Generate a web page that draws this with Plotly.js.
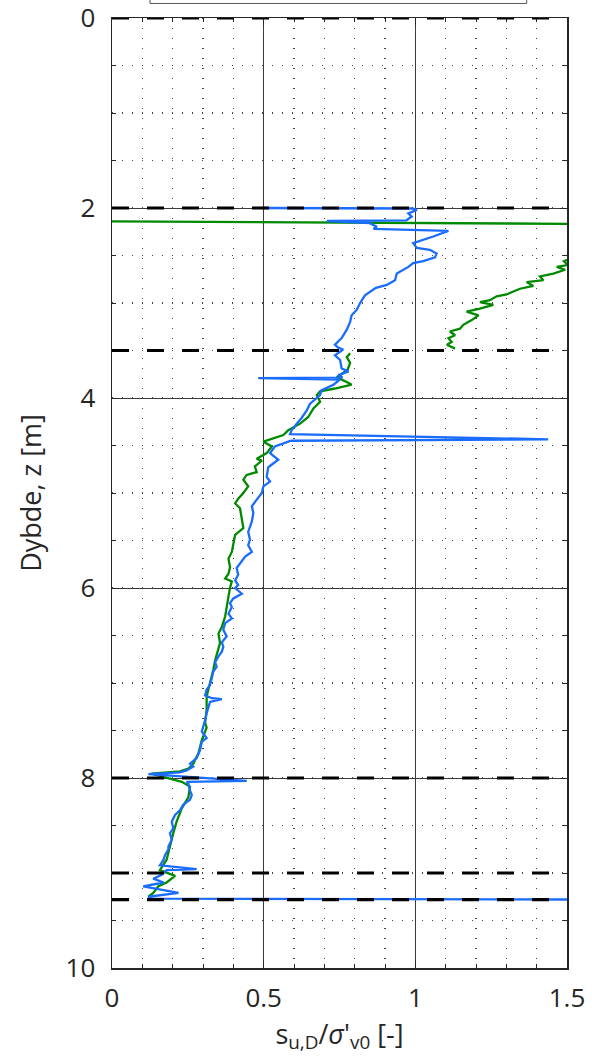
<!DOCTYPE html>
<html>
<head>
<meta charset="utf-8">
<script src="https://cdn.plot.ly/plotly-3.0.1.min.js"></script>
<style>html,body{margin:0;padding:0;background:#fff}#chart{width:592px;height:1058px}</style>
</head>
<body>
<div id="chart"></div>
<script>
// Blue profile: s_u,D / sigma'_v0 vs depth z
const blueX = [0.50,0.99,1.005,0.977,0.988,0.97,0.708,0.85,0.873,0.862,1.109,1.059,0.993,1.005,1.048,1.07,1.065,1.026,0.993,0.977,0.939,0.933,0.906,0.870,0.834,0.818,0.807,0.79,0.785,0.774,0.757,0.735,0.746,0.762,0.735,0.752,0.757,0.78,0.746,0.76,0.482,0.75,0.746,0.73,0.69,0.686,0.675,0.653,0.642,0.625,0.609,0.592,0.587,1.438,0.59,0.581,0.537,0.521,0.548,0.527,0.515,0.51,0.521,0.499,0.494,0.477,0.461,0.466,0.461,0.449,0.455,0.449,0.461,0.439,0.422,0.411,0.416,0.406,0.416,0.406,0.428,0.40,0.389,0.395,0.384,0.395,0.373,0.367,0.378,0.362,0.367,0.362,0.351,0.34,0.345,0.334,0.329,0.323,0.312,0.307,0.329,0.362,0.323,0.318,0.312,0.307,0.301,0.296,0.312,0.296,0.29,0.279,0.257,0.268,0.246,0.224,0.12,0.444,0.246,0.252,0.257,0.263,0.257,0.235,0.224,0.208,0.197,0.202,0.191,0.197,0.186,0.186,0.175,0.17,0.158,0.279,0.18,0.164,0.136,0.17,0.103,0.219,0.12,0.13,1.7];
const blueZ = [2.00,2.005,2.02,2.056,2.09,2.13,2.137,2.16,2.197,2.22,2.24,2.30,2.37,2.42,2.44,2.48,2.52,2.56,2.58,2.62,2.69,2.76,2.81,2.84,2.92,3.00,3.07,3.13,3.20,3.28,3.37,3.44,3.47,3.49,3.55,3.60,3.69,3.72,3.76,3.785,3.79,3.805,3.82,3.86,3.92,3.97,4.00,4.06,4.13,4.21,4.27,4.34,4.38,4.435,4.45,4.46,4.51,4.58,4.65,4.70,4.73,4.83,4.88,4.93,5.00,5.07,5.14,5.21,5.30,5.41,5.49,5.55,5.62,5.67,5.74,5.79,5.86,5.92,5.97,6.00,6.06,6.11,6.16,6.20,6.27,6.32,6.37,6.44,6.51,6.57,6.62,6.67,6.72,6.78,6.83,6.88,6.95,7.02,7.07,7.13,7.16,7.17,7.20,7.25,7.32,7.39,7.46,7.51,7.58,7.62,7.71,7.79,7.85,7.88,7.92,7.94,7.96,8.03,8.04,8.06,8.13,8.18,8.23,8.28,8.34,8.39,8.46,8.53,8.58,8.65,8.72,8.75,8.81,8.86,8.92,8.96,8.97,9.02,9.06,9.10,9.14,9.21,9.25,9.27,9.28];

// Green profile (null = gap in the line)
const greenX = [0.0,1.7,null,1.52,1.49,1.502,1.466,1.494,1.455,1.411,1.422,1.367,1.389,1.345,1.323,1.301,1.268,1.246,1.213,1.257,1.213,1.169,1.208,1.186,1.158,1.147,1.114,1.131,1.109,1.12,1.104,1.131,null,0.785,0.774,0.785,0.777,0.757,0.741,0.785,0.79,0.735,0.686,0.675,0.686,0.664,0.647,0.62,0.581,0.565,0.537,0.499,0.527,0.51,0.477,0.494,0.471,0.477,0.444,0.433,0.449,0.433,0.416,0.406,0.422,0.428,0.433,0.406,0.40,0.395,0.384,0.389,0.384,0.373,0.395,0.389,0.384,0.378,0.373,0.362,0.351,0.356,0.345,0.34,0.334,0.323,0.312,0.312,0.307,0.312,0.296,0.285,0.268,0.252,0.224,0.13,0.23,0.257,0.252,0.23,0.213,0.202,0.191,0.18,0.158,0.208,0.18,0.153,0.136,0.12];
const greenZ = [2.14,2.17,null,2.52,2.56,2.60,2.62,2.65,2.69,2.72,2.76,2.78,2.82,2.85,2.88,2.91,2.93,2.97,2.99,3.02,3.06,3.09,3.13,3.18,3.23,3.27,3.30,3.34,3.37,3.41,3.44,3.48,null,3.53,3.57,3.63,3.70,3.75,3.78,3.85,3.86,3.90,3.93,3.97,4.04,4.11,4.20,4.27,4.34,4.39,4.42,4.46,4.51,4.58,4.64,4.66,4.72,4.78,4.81,4.86,4.93,5.00,5.06,5.11,5.16,5.27,5.37,5.44,5.53,5.62,5.69,5.78,5.85,5.90,5.93,6.00,6.09,6.20,6.30,6.41,6.48,6.58,6.69,6.76,6.86,7.00,7.14,7.28,7.42,7.47,7.60,7.74,7.85,7.90,7.93,7.955,8.04,8.09,8.20,8.32,8.46,8.58,8.72,8.86,8.97,9.03,9.10,9.14,9.21,9.25];

// Layer boundaries (depth, m)
const layerDepths = [0, 2.0, 3.5, 8.0, 9.0, 9.28];

const xTickVals = [0, 0.5, 1, 1.5];
const xTickText = ['0', '0.5', '1', '1.5'];
const yTickVals = [0, 2, 4, 6, 8, 10];
const yTickText = ['0', '2', '4', '6', '8', '10'];

const FONT = 'Open Sans, sans-serif';
const TXT = '#262626';

const traces = [
  {x: greenX, y: greenZ, type: 'scatter', mode: 'lines', connectgaps: false,
   line: {color: '#008a00', width: 2.3}, showlegend: false, hoverinfo: 'skip'},
  {x: blueX, y: blueZ, type: 'scatter', mode: 'lines',
   line: {color: '#1a6cff', width: 2.3}, showlegend: false, hoverinfo: 'skip'}
];

const shapes = layerDepths.map(d => ({
  type: 'line', xref: 'paper', yref: 'y', x0: 0, x1: 1, y0: d, y1: d,
  line: {color: '#000', width: 3.2, dash: '17px,18px'}, layer: 'above'
}));
// partially visible legend frame above the axes
shapes.push({type: 'rect', xref: 'paper', yref: 'paper', x0: 0.0835, x1: 0.9114, y0: 1.0153, y1: 1.03,
  line: {color: '#555', width: 1}, fillcolor: '#fff', layer: 'above'});

const layout = {
  width: 592, height: 1058,
  margin: {l: 112, r: 25, t: 18, b: 90},
  paper_bgcolor: '#fff', plot_bgcolor: '#fff',
  font: {family: FONT, color: TXT, size: 26},
  showlegend: false,
  xaxis: {
    range: [0, 1.5], tickvals: xTickVals, ticktext: xTickText,
    ticks: 'inside', ticklen: 7, tickcolor: '#262626', tickwidth: 1,
    showline: true, linecolor: '#262626', linewidth: 1.5, mirror: 'ticks',
    showgrid: true, gridcolor: '#3a3a3a', gridwidth: 1,
    zeroline: false, ticklabelstandoff: 6, ticklabeloverflow: 'allow',
    tickfont: {family: FONT, size: 26, color: TXT},
    minor: {dtick: 0.1, tick0: 0, ticks: 'inside', ticklen: 4, tickcolor: '#262626',
            showgrid: true, gridcolor: '#444', gridwidth: 1.4, griddash: '1.4px,8.6px'},
    title: {text: 's<sub>u,D</sub>/<i>σ</i>\'<sub>v0</sub> [-]', font: {family: FONT, size: 27, color: TXT}, standoff: 4},
    automargin: false
  },
  yaxis: {
    range: [10, 0], tickvals: yTickVals, ticktext: yTickText,
    ticks: 'inside', ticklen: 7, tickcolor: '#262626', tickwidth: 1,
    showline: true, linecolor: '#262626', linewidth: 1.5, mirror: 'ticks',
    showgrid: true, gridcolor: '#3a3a3a', gridwidth: 1,
    zeroline: false, ticklabelstandoff: 10, ticklabeloverflow: 'allow',
    tickfont: {family: FONT, size: 26, color: TXT},
    minor: {dtick: 0.5, tick0: 0, ticks: 'inside', ticklen: 4, tickcolor: '#262626',
            showgrid: true, gridcolor: '#444', gridwidth: 1.4, griddash: '1.4px,8.6px'},
    title: {text: 'Dybde, z [m]', font: {family: FONT, size: 27, color: TXT}, standoff: 16},
    automargin: false
  },
  shapes: shapes
};

Plotly.newPlot('chart', traces, layout, {staticPlot: true, displayModeBar: false});
</script>
</body>
</html>
